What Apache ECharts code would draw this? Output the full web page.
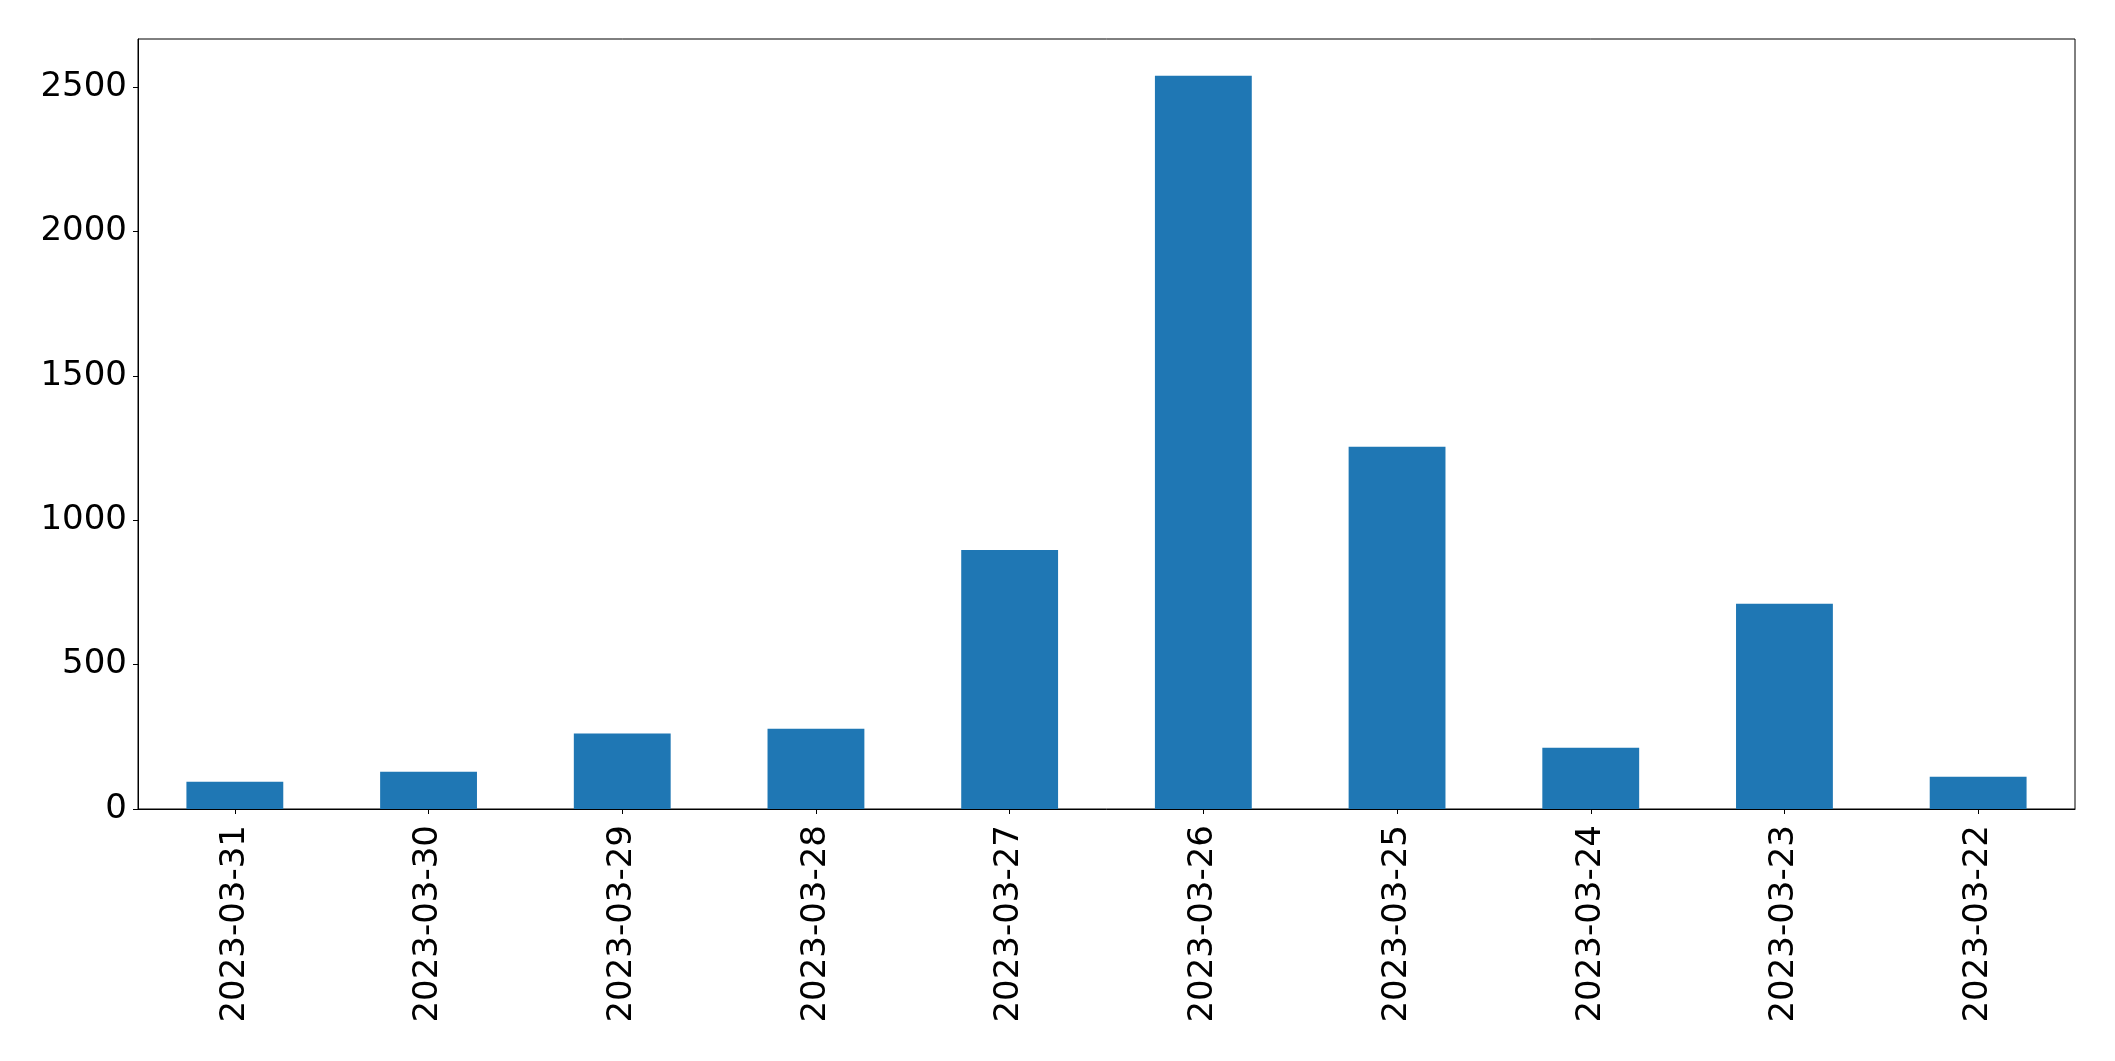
<!DOCTYPE html>
<html>
<head>
<meta charset="utf-8">
<script src="https://cdn.jsdelivr.net/npm/echarts@6/dist/echarts.min.js"></script>
<style>html,body{margin:0;padding:0;background:#fff}#c{width:2115px;height:1061px}</style>
</head>
<body>
<div id="c"></div>
<script>
const categories = ['2023-03-31','2023-03-30','2023-03-29','2023-03-28','2023-03-27','2023-03-26','2023-03-25','2023-03-24','2023-03-23','2023-03-22'];
const values = [94, 129, 261, 278, 897, 2539, 1254, 212, 711, 112];
const yTicks = [0, 500, 1000, 1500, 2000, 2500];

const chart = echarts.init(document.getElementById('c'), null, {renderer: 'canvas'});
const font = 'DejaVu Sans';
chart.setOption({
  animation: false,
  backgroundColor: '#ffffff',
  grid: {left: 138, right: 40, top: 39, bottom: 252, show: true, borderColor: '#000', borderWidth: 1, backgroundColor: 'transparent'},
  xAxis: {
    type: 'category',
    data: categories,
    axisLine: {show: true, lineStyle: {color: '#000', width: 1}},
    axisTick: {show: true, alignWithLabel: true, length: 5, lineStyle: {color: '#000'}},
    axisLabel: {rotate: 90, fontSize: 34, fontFamily: font, color: '#000', margin: 16, interval: 0},
    splitLine: {show: false}
  },
  yAxis: {
    type: 'value',
    min: 0,
    max: 2666,
    interval: 500,
    axisLine: {show: true, lineStyle: {color: '#000', width: 1}},
    axisTick: {show: true, length: 5, lineStyle: {color: '#000'}, customValues: yTicks},
    axisLabel: {fontSize: 34, fontFamily: font, color: '#000', margin: 11, customValues: yTicks, formatter: v => String(v)},
    splitLine: {show: false}
  },
  series: [{
    type: 'bar',
    data: values,
    barWidth: '50%',
    itemStyle: {color: '#1f77b4'}
  }]
});
</script>
</body>
</html>
